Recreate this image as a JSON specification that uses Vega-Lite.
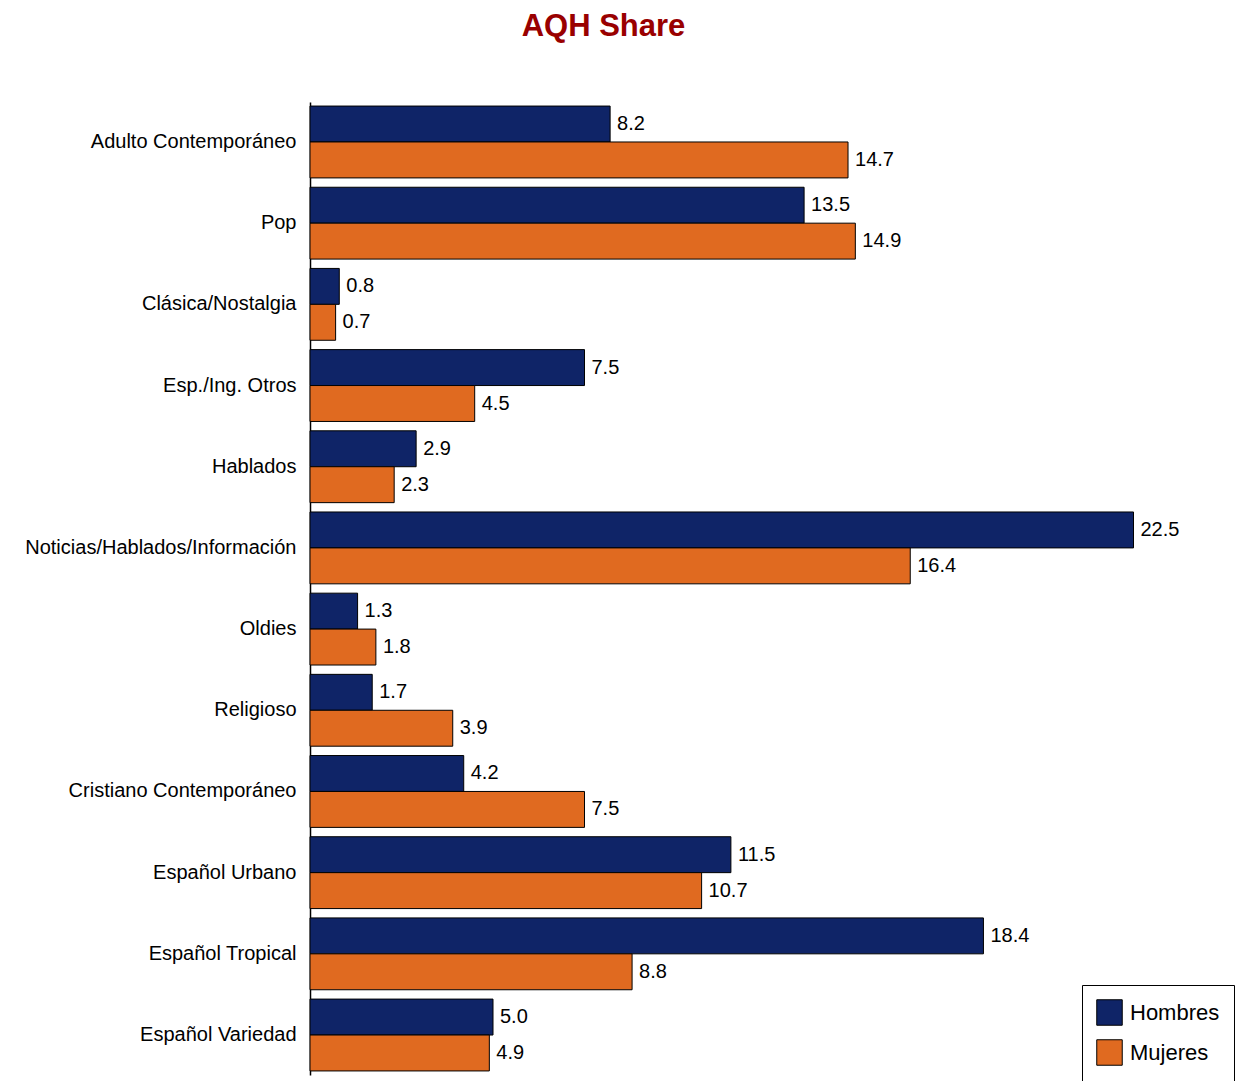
{
  "$schema": "https://vega.github.io/schema/vega-lite/v6.json",
  "width": 915,
  "height": 973,
  "autosize": {"type": "none"},
  "padding": {"left": 310, "top": 102, "right": 14, "bottom": 6},
  "background": "white",
  "title": {
    "text": "AQH Share",
    "font": "Liberation Sans",
    "fontSize": 31,
    "fontWeight": "bold",
    "color": "#990000",
    "anchor": "middle",
    "dx": -164,
    "offset": 59
  },
  "config": {
    "view": {"stroke": null},
    "font": "Liberation Sans"
  },
  "data": {
    "values": [
      {"genre": "Adulto Contemporáneo", "series": "Hombres", "value": 8.2},
      {"genre": "Adulto Contemporáneo", "series": "Mujeres", "value": 14.7},
      {"genre": "Pop", "series": "Hombres", "value": 13.5},
      {"genre": "Pop", "series": "Mujeres", "value": 14.9},
      {"genre": "Clásica/Nostalgia", "series": "Hombres", "value": 0.8},
      {"genre": "Clásica/Nostalgia", "series": "Mujeres", "value": 0.7},
      {"genre": "Esp./Ing. Otros", "series": "Hombres", "value": 7.5},
      {"genre": "Esp./Ing. Otros", "series": "Mujeres", "value": 4.5},
      {"genre": "Hablados", "series": "Hombres", "value": 2.9},
      {"genre": "Hablados", "series": "Mujeres", "value": 2.3},
      {"genre": "Noticias/Hablados/Información", "series": "Hombres", "value": 22.5},
      {"genre": "Noticias/Hablados/Información", "series": "Mujeres", "value": 16.4},
      {"genre": "Oldies", "series": "Hombres", "value": 1.3},
      {"genre": "Oldies", "series": "Mujeres", "value": 1.8},
      {"genre": "Religioso", "series": "Hombres", "value": 1.7},
      {"genre": "Religioso", "series": "Mujeres", "value": 3.9},
      {"genre": "Cristiano Contemporáneo", "series": "Hombres", "value": 4.2},
      {"genre": "Cristiano Contemporáneo", "series": "Mujeres", "value": 7.5},
      {"genre": "Español Urbano", "series": "Hombres", "value": 11.5},
      {"genre": "Español Urbano", "series": "Mujeres", "value": 10.7},
      {"genre": "Español Tropical", "series": "Hombres", "value": 18.4},
      {"genre": "Español Tropical", "series": "Mujeres", "value": 8.8},
      {"genre": "Español Variedad", "series": "Hombres", "value": 5.0},
      {"genre": "Español Variedad", "series": "Mujeres", "value": 4.9}
    ]
  },
  "encoding": {
    "y": {
      "field": "genre",
      "type": "nominal",
      "sort": null,
      "scale": {"paddingInner": 0.115, "paddingOuter": 0.05},
      "axis": {
        "title": null,
        "ticks": false,
        "domainColor": "black",
        "domainWidth": 1.5,
        "labelFontSize": 20,
        "labelColor": "black",
        "labelPadding": 14,
        "labelLimit": 400,
        "labelFont": "Liberation Sans"
      }
    },
    "yOffset": {
      "field": "series",
      "type": "nominal",
      "scale": {"paddingInner": 0, "paddingOuter": 0}
    },
    "x": {
      "field": "value",
      "type": "quantitative",
      "scale": {"domain": [0, 25]},
      "axis": null
    }
  },
  "layer": [
    {
      "mark": {"type": "bar", "stroke": "black", "strokeWidth": 1},
      "encoding": {
        "color": {
          "field": "series",
          "type": "nominal",
          "scale": {"domain": ["Hombres", "Mujeres"], "range": ["#0F2467", "#E06A20"]},
          "legend": {
            "title": null,
            "orient": "none",
            "legendX": 772,
            "legendY": 883,
            "symbolType": "square",
            "symbolSize": 650,
            "symbolStrokeColor": "black",
            "symbolStrokeWidth": 1,
            "symbolOpacity": 1,
            "labelFontSize": 22,
            "labelColor": "black",
            "labelFont": "Liberation Sans",
            "labelOffset": 7,
            "rowPadding": 9,
            "padding": 14,
            "strokeColor": "black",
            "fillColor": "white"
          }
        }
      }
    },
    {
      "mark": {"type": "text", "align": "left", "baseline": "middle", "dx": 7, "fontSize": 20, "color": "black", "font": "Liberation Sans"},
      "encoding": {
        "text": {"field": "value", "type": "quantitative", "format": ".1f"}
      }
    }
  ]
}
